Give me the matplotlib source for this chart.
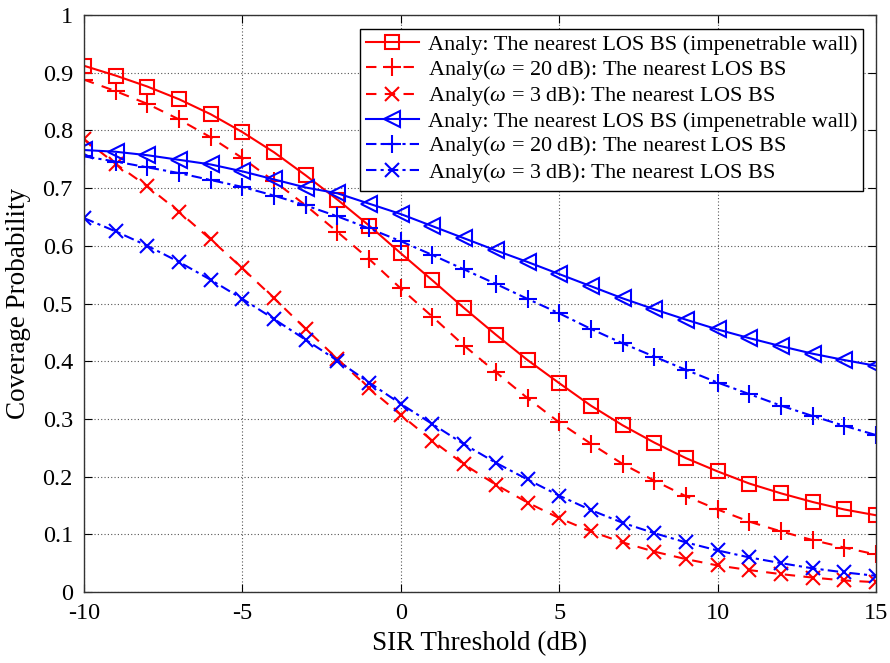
import matplotlib
matplotlib.use("Agg")
import matplotlib.pyplot as plt
import numpy as np

plt.rcParams['font.family'] = ['Liberation Serif', 'DejaVu Serif']
plt.rcParams['mathtext.fontset'] = 'custom'
plt.rcParams['mathtext.it'] = 'Liberation Serif:italic'
plt.rcParams['mathtext.rm'] = 'Liberation Serif'

x = list(range(-10, 16))

red_wall = [0.912, 0.895, 0.876, 0.854, 0.828, 0.797, 0.762, 0.722, 0.680, 0.635, 0.587, 0.540, 0.492,
            0.446, 0.402, 0.362, 0.323, 0.289, 0.259, 0.232, 0.209, 0.188, 0.171, 0.156, 0.143, 0.133]
red_w20 = [0.888, 0.868, 0.846, 0.819, 0.788, 0.752, 0.712, 0.670, 0.624, 0.577, 0.526, 0.477, 0.427,
           0.381, 0.336, 0.294, 0.257, 0.222, 0.193, 0.166, 0.143, 0.122, 0.105, 0.090, 0.077, 0.065]
red_w3 = [0.785, 0.742, 0.703, 0.659, 0.611, 0.561, 0.509, 0.456, 0.404, 0.353, 0.307, 0.262, 0.221,
          0.186, 0.155, 0.128, 0.105, 0.086, 0.070, 0.057, 0.046, 0.038, 0.031, 0.025, 0.020, 0.017]
blue_wall = [0.766, 0.763, 0.757, 0.749, 0.741, 0.729, 0.715, 0.701, 0.691, 0.673, 0.655, 0.634, 0.613,
             0.592, 0.572, 0.551, 0.530, 0.509, 0.490, 0.472, 0.455, 0.440, 0.426, 0.413, 0.402, 0.392]
blue_w20 = [0.755, 0.746, 0.736, 0.726, 0.714, 0.702, 0.687, 0.670, 0.651, 0.630, 0.608, 0.584, 0.559,
            0.534, 0.508, 0.483, 0.456, 0.431, 0.408, 0.385, 0.363, 0.343, 0.323, 0.305, 0.288, 0.272]
blue_w3 = [0.648, 0.625, 0.600, 0.572, 0.541, 0.508, 0.473, 0.437, 0.401, 0.363, 0.326, 0.291, 0.256,
           0.224, 0.195, 0.167, 0.142, 0.120, 0.102, 0.086, 0.072, 0.060, 0.050, 0.041, 0.034, 0.028]

labels = [
    "Analy: The nearest LOS BS (impenetrable wall)",
    r"Analy($\omega$ = 20 dB): The nearest LOS BS",
    r"Analy($\omega$ = 3 dB): The nearest LOS BS",
    "Analy: The nearest LOS BS (impenetrable wall)",
    r"Analy($\omega$ = 20 dB): The nearest LOS BS",
    r"Analy($\omega$ = 3 dB): The nearest LOS BS",
]

fig = plt.figure(figsize=(8.9, 6.63), dpi=100)
L, R, T, B = 84, 876, 15, 592
ax = fig.add_axes([L/890, 1-B/663, (R-L)/890, (B-T)/663])

lw = 1.5
ax.plot(x, red_wall, color='red', ls='-', marker='s', mfc='none', ms=10, mew=1.5, lw=lw, label=labels[0])
ax.plot(x, red_w20, color='red', ls=(0, (5, 4)), marker='+', ms=13, mew=1.5, lw=lw, label=labels[1])
ax.plot(x, red_w3, color='red', ls=(0, (5, 4)), marker='x', ms=10, mew=1.5, lw=lw, label=labels[2])
ax.plot(x, blue_wall, color='blue', ls='-', marker='<', mfc='none', ms=12, mew=1.5, lw=lw, label=labels[3])
ax.plot(x, blue_w20, color='blue', ls=(0, (5, 2, 1.5, 2)), marker='+', ms=13, mew=1.5, lw=lw, label=labels[4])
ax.plot(x, blue_w3, color='blue', ls=(0, (5, 2, 1.5, 2)), marker='x', ms=10, mew=1.5, lw=lw, label=labels[5])

ax.set_xlim(-10, 15)
ax.set_ylim(0, 1)
ax.set_xticks([-10, -5, 0, 5, 10, 15])
ax.set_xticklabels(['-10', '-5', '0', '5', '10', '15'])
ax.set_yticks(np.arange(0, 1.01, 0.1))
ax.set_yticklabels(['0', '0.1', '0.2', '0.3', '0.4', '0.5', '0.6', '0.7', '0.8', '0.9', '1'])
ax.tick_params(direction='in', top=True, right=True, labelsize=17.5, length=6, pad=8)
ax.grid(True, ls=(0, (1, 2)), color='#555555', lw=0.8)
for s in ax.spines.values():
    s.set_linewidth(1.0)
    s.set_color('#333333')

ax.set_xlabel('SIR Threshold (dB)', fontsize=19.5, labelpad=5)
ax.set_ylabel('Coverage Probability', fontsize=19.5, labelpad=8)

leg = ax.legend(loc='upper right', bbox_to_anchor=((863-L)/(R-L), 1-(29-T)/(B-T)), fontsize=16, fancybox=False,
                edgecolor='black', framealpha=1, handlelength=2.4, borderpad=0.25,
                labelspacing=0.12, handletextpad=0.4, borderaxespad=0)
leg.get_frame().set_linewidth(1.0)

fig.savefig('out.png', dpi=100)
